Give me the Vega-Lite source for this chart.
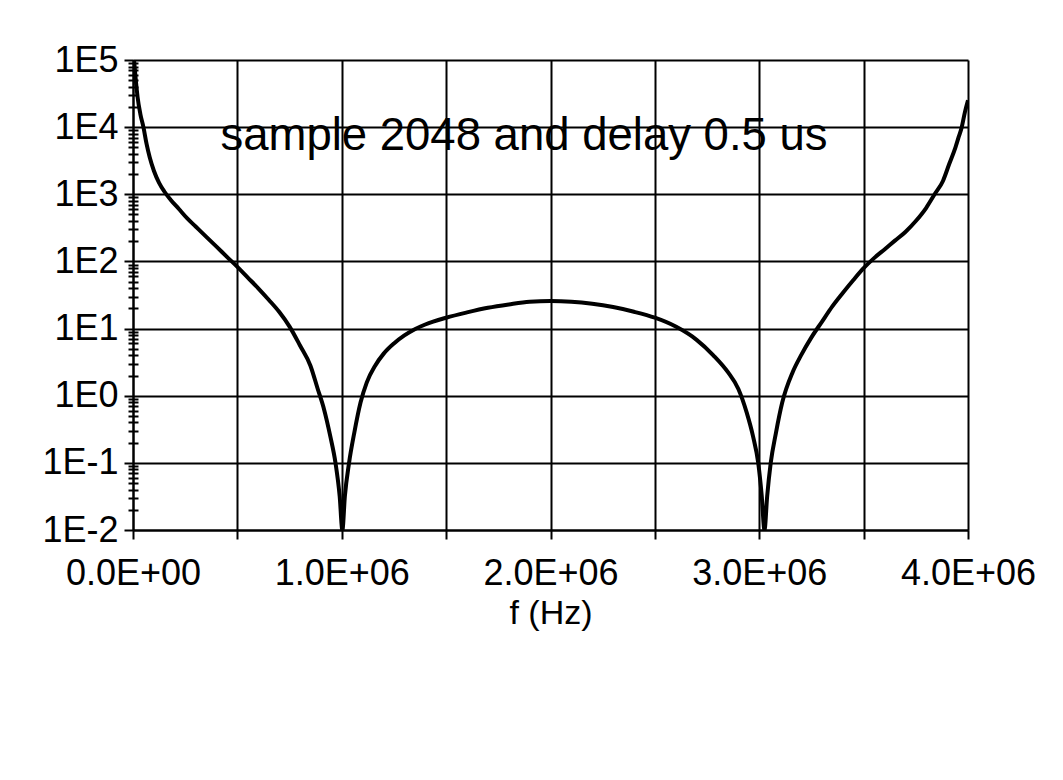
{
  "$schema": "https://vega.github.io/schema/vega-lite/v6.json",
  "width": 835,
  "height": 470,
  "autosize": {"type": "none"},
  "padding": {"left": 133, "top": 60, "right": 95, "bottom": 250},
  "background": "white",
  "config": {
    "font": "Liberation Sans",
    "view": {"stroke": null}
  },
  "datasets": {
    "curve": [
      {"f": 5000, "v": 100000},
      {"f": 12000, "v": 56000},
      {"f": 22000, "v": 28000},
      {"f": 35000, "v": 15800},
      {"f": 50000, "v": 10000},
      {"f": 65000, "v": 5620},
      {"f": 80000, "v": 3550},
      {"f": 100000, "v": 2240},
      {"f": 125000, "v": 1480},
      {"f": 150000, "v": 1100},
      {"f": 180000, "v": 832},
      {"f": 220000, "v": 603},
      {"f": 260000, "v": 437},
      {"f": 300000, "v": 331},
      {"f": 350000, "v": 234},
      {"f": 400000, "v": 166},
      {"f": 450000, "v": 117},
      {"f": 500000, "v": 83},
      {"f": 550000, "v": 57.5},
      {"f": 600000, "v": 39.8},
      {"f": 650000, "v": 26.9},
      {"f": 700000, "v": 17.8},
      {"f": 750000, "v": 10.7},
      {"f": 800000, "v": 5.6},
      {"f": 850000, "v": 2.8},
      {"f": 885000, "v": 1.26},
      {"f": 915000, "v": 0.63},
      {"f": 945000, "v": 0.25},
      {"f": 970000, "v": 0.1},
      {"f": 990000, "v": 0.032},
      {"f": 1003000, "v": 0.01},
      {"f": 1015000, "v": 0.032},
      {"f": 1035000, "v": 0.1},
      {"f": 1060000, "v": 0.28},
      {"f": 1090000, "v": 0.79},
      {"f": 1120000, "v": 1.58},
      {"f": 1160000, "v": 2.8},
      {"f": 1200000, "v": 4.2},
      {"f": 1250000, "v": 6},
      {"f": 1300000, "v": 7.9},
      {"f": 1350000, "v": 9.8},
      {"f": 1400000, "v": 11.5},
      {"f": 1500000, "v": 14.5},
      {"f": 1600000, "v": 17.4},
      {"f": 1700000, "v": 20.4},
      {"f": 1800000, "v": 22.9},
      {"f": 1900000, "v": 25.1},
      {"f": 2000000, "v": 25.7},
      {"f": 2100000, "v": 25.1},
      {"f": 2200000, "v": 23.4},
      {"f": 2300000, "v": 20.9},
      {"f": 2400000, "v": 17.8},
      {"f": 2500000, "v": 14.5},
      {"f": 2600000, "v": 10.7},
      {"f": 2700000, "v": 6.8},
      {"f": 2780000, "v": 4},
      {"f": 2850000, "v": 2.24},
      {"f": 2900000, "v": 1.26},
      {"f": 2940000, "v": 0.56},
      {"f": 2970000, "v": 0.25},
      {"f": 2995000, "v": 0.1},
      {"f": 3012000, "v": 0.032},
      {"f": 3025000, "v": 0.01},
      {"f": 3038000, "v": 0.032},
      {"f": 3055000, "v": 0.1},
      {"f": 3080000, "v": 0.28},
      {"f": 3110000, "v": 0.79},
      {"f": 3160000, "v": 2.24},
      {"f": 3200000, "v": 3.98},
      {"f": 3250000, "v": 7.4},
      {"f": 3300000, "v": 12.6},
      {"f": 3350000, "v": 21.4},
      {"f": 3400000, "v": 33.9},
      {"f": 3450000, "v": 52.5},
      {"f": 3500000, "v": 79.4},
      {"f": 3550000, "v": 112},
      {"f": 3600000, "v": 151},
      {"f": 3650000, "v": 204},
      {"f": 3700000, "v": 275},
      {"f": 3750000, "v": 400},
      {"f": 3800000, "v": 630},
      {"f": 3840000, "v": 1000},
      {"f": 3880000, "v": 1580},
      {"f": 3910000, "v": 2820},
      {"f": 3940000, "v": 5010},
      {"f": 3955000, "v": 7080},
      {"f": 3970000, "v": 10000},
      {"f": 3985000, "v": 16600},
      {"f": 4000000, "v": 25100}
    ],
    "note": [
      {"f": 1873000, "v": 4540, "label": "sample 2048 and delay 0.5 us"}
    ]
  },
  "layer": [
    {
      "data": {"name": "curve"},
      "mark": {"type": "line", "color": "black", "strokeWidth": 4, "interpolate": "monotone", "clip": true},
      "encoding": {
        "x": {
          "field": "f", "type": "quantitative",
          "scale": {"domain": [0, 4000000], "nice": false, "zero": false},
          "axis": {
            "title": "f (Hz)",
            "values": [0, 500000, 1000000, 1500000, 2000000, 2500000, 3000000, 3500000, 4000000],
            "labelExpr": "datum.value % 1000000 == 0 ? (datum.value == 0 ? '0.0E+00' : format(datum.value / 1000000, '.1f') + 'E+06') : ''",
            "labelFont": "Liberation Sans", "labelFontSize": 36, "labelColor": "black",
            "labelPadding": 17, "labelFlush": false, "labelOverlap": false,
            "titleFont": "Liberation Sans", "titleFontSize": 34, "titleFontWeight": "normal", "titleColor": "black",
            "titlePadding": 5,
            "domainColor": "black", "domainWidth": 2,
            "tickColor": "black", "tickWidth": 2, "tickSize": 9,
            "grid": true, "gridColor": "black", "gridWidth": 2, "gridOpacity": 1
          }
        },
        "y": {
          "field": "v", "type": "quantitative",
          "scale": {"type": "log", "domain": [0.01, 100000], "nice": false},
          "axis": {
            "title": null, "orient": "left",
            "values": [0.01, 0.1, 1, 10, 100, 1000, 10000, 100000],
            "labelExpr": "'1E' + round(log(datum.value) / LN10)",
            "labelFont": "Liberation Sans", "labelFontSize": 36, "labelColor": "black",
            "labelPadding": 6, "labelFlush": false, "labelOverlap": false,
            "domainColor": "black", "domainWidth": 2,
            "tickColor": "black", "tickWidth": 2, "tickSize": 9,
            "grid": true, "gridColor": "black", "gridWidth": 2, "gridOpacity": 1
          }
        }
      }
    },
    {
      "data": {"name": "curve"},
      "mark": {"type": "point", "opacity": 0},
      "encoding": {
        "x": {"field": "f", "type": "quantitative"},
        "y": {
          "field": "v", "type": "quantitative",
          "axis": {
            "title": null, "orient": "left", "labels": false, "grid": false, "domain": false,
            "values": [0.02,0.03,0.04,0.05,0.06,0.07,0.08,0.09,0.2,0.3,0.4,0.5,0.6,0.7,0.8,0.9,2,3,4,5,6,7,8,9,20,30,40,50,60,70,80,90,200,300,400,500,600,700,800,900,2000,3000,4000,5000,6000,7000,8000,9000,20000,30000,40000,50000,60000,70000,80000,90000],
            "tickColor": "black", "tickWidth": 2, "tickSize": 5
          }
        }
      }
    },
    {
      "data": {"name": "curve"},
      "mark": {"type": "point", "opacity": 0},
      "encoding": {
        "x": {"field": "f", "type": "quantitative"},
        "y": {
          "field": "v", "type": "quantitative",
          "axis": {
            "title": null, "orient": "left", "labels": false, "grid": false, "domain": false,
            "values": [0.02,0.03,0.04,0.05,0.06,0.07,0.08,0.09,0.2,0.3,0.4,0.5,0.6,0.7,0.8,0.9,2,3,4,5,6,7,8,9,20,30,40,50,60,70,80,90,200,300,400,500,600,700,800,900,2000,3000,4000,5000,6000,7000,8000,9000,20000,30000,40000,50000,60000,70000,80000,90000],
            "tickColor": "black", "tickWidth": 2, "tickSize": -5
          }
        }
      }
    },
    {
      "data": {"name": "note"},
      "mark": {"type": "text", "font": "Liberation Sans", "fontSize": 45.5, "color": "black", "align": "center", "baseline": "alphabetic"},
      "encoding": {
        "x": {"field": "f", "type": "quantitative"},
        "y": {"field": "v", "type": "quantitative", "axis": null},
        "text": {"field": "label"}
      }
    }
  ],
  "resolve": {"axis": {"y": "independent"}}
}
